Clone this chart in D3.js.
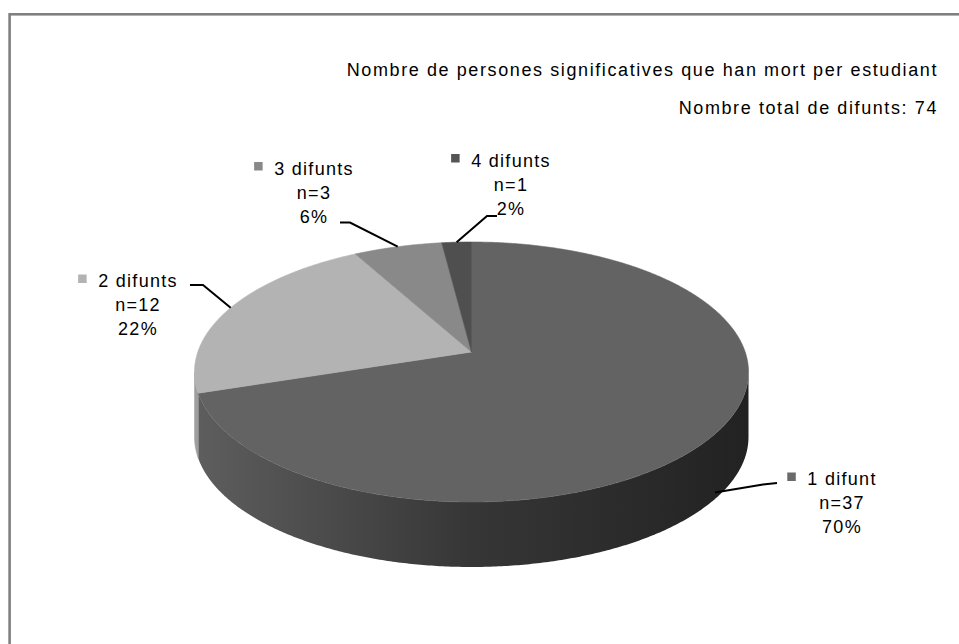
<!DOCTYPE html>
<html>
<head>
<meta charset="utf-8">
<script src="https://cdn.jsdelivr.net/npm/d3@7"></script>
<style>
  html, body { margin: 0; padding: 0; background: #fff; }
  svg { display: block; }
  text { font-family: "Liberation Sans", Arial, sans-serif; fill: #000; }
</style>
</head>
<body>
<svg id="chart" width="959" height="644"></svg>
<script>
// Data
const categories = ["1 difunt", "2 difunts", "3 difunts", "4 difunts"];
const counts = [37, 12, 3, 1];
const percents = [70, 22, 6, 2];
const titleLines = [
  "Nombre de persones significatives que han mort per estudiant",
  "Nombre total de difunts: 74"
];

// Styling
const topColors = ["#636363", "#b3b3b3", "#898989", "#4f4f4f"];
const markerColors = ["#6a6a6a", "#b3b3b3", "#898989", "#555555"];
const sideColors = [null, "#9e9e9e", "#7a7a7a", "#444444"];

// Label placement: block centre x, first baseline, leader elbow points
const labelLayout = [
  { cx: 842, y: 485, lead: [[777, 483], [763, 484.5]] },
  { cx: 138, y: 287, lead: [[190, 285], [203, 285]] },
  { cx: 314, y: 174.5, lead: [[340, 222.5], [350, 222.5]] },
  { cx: 511, y: 166.5, lead: [[497, 216], [487, 216]] }
];

const svg = d3.select("#chart");

// Chart frame (top and left edges visible in the viewport)
svg.append("rect")
  .attr("x", 9.6).attr("y", 14.3)
  .attr("width", 1000).attr("height", 700)
  .attr("fill", "none").attr("stroke", "#808080").attr("stroke-width", 2.6);

// Title lines, right aligned
svg.selectAll("text.title").data(titleLines).enter().append("text")
  .attr("class", "title")
  .attr("x", 938)
  .attr("y", (d, i) => 76 + i * 38)
  .attr("text-anchor", "end")
  .style("font-size", "18px")
  .style("letter-spacing", "1.6px")
  .text(d => d);

// 3D pie geometry: tilted disc with mild perspective
const cx = 471.5, cy = 372, rx = 277, ry = 130, depth = 65;
const k = 20 / 130; // perspective shift of the disc centre
const kk = Math.sqrt(1 - k * k);

function rim(theta) {
  const u = Math.sin(theta), v = -Math.cos(theta);
  const w = 1 - k * v;
  return [cx + rx * u * kk / w, cy + ry * (v - k) / w];
}
const apex = [cx, cy - ry * k];

const pie = d3.pie().sort(null).value(d => d)
  .startAngle(0).endAngle(2 * Math.PI);
const arcs = pie(percents);

const line = d3.line();
function arcPoints(a0, a1) {
  const n = Math.max(2, Math.ceil((a1 - a0) / (Math.PI / 360)));
  return d3.range(n + 1).map(i => rim(a0 + (a1 - a0) * i / n));
}

// Side walls (front half of the disc only)
const frontStart = Math.acos(-k), frontEnd = 2 * Math.PI - Math.acos(-k);

const defs = svg.append("defs");
const grad = defs.append("linearGradient")
  .attr("id", "sideGrad")
  .attr("gradientUnits", "userSpaceOnUse")
  .attr("x1", cx - rx).attr("x2", cx + rx).attr("y1", 0).attr("y2", 0);
grad.append("stop").attr("offset", "0%").attr("stop-color", "#5e5e5e");
grad.append("stop").attr("offset", "25%").attr("stop-color", "#4a4a4a");
grad.append("stop").attr("offset", "50%").attr("stop-color", "#363636");
grad.append("stop").attr("offset", "100%").attr("stop-color", "#222222");

const gSide = svg.append("g");
arcs.forEach((a, i) => {
  const s = Math.max(a.startAngle, frontStart);
  const e = Math.min(a.endAngle, frontEnd);
  if (e <= s) return;
  const topPts = arcPoints(s, e);
  const botPts = topPts.slice().reverse().map(p => [p[0], p[1] + depth]);
  gSide.append("path")
    .attr("d", line(topPts.concat(botPts)) + "Z")
    .attr("fill", i === 0 ? "url(#sideGrad)" : sideColors[i])
    .attr("stroke", i === 0 ? "none" : sideColors[i])
    .attr("stroke-width", 0.5);
});

// Top faces
const gTop = svg.append("g");
arcs.forEach((a, i) => {
  const pts = [apex].concat(arcPoints(a.startAngle, a.endAngle));
  gTop.append("path")
    .attr("d", line(pts) + "Z")
    .attr("fill", topColors[i])
    .attr("stroke", topColors[i])
    .attr("stroke-width", 0.6);
});

// Leader lines and labels
const gLab = svg.append("g");
arcs.forEach((a, i) => {
  const mid = (a.startAngle + a.endAngle) / 2;
  let anchor = rim(mid);
  const onFront = anchor[1] > cy;
  if (onFront) anchor = [anchor[0], anchor[1] + depth * 0.9];
  const L = labelLayout[i];
  gLab.append("path")
    .attr("d", line(L.lead.concat([anchor])))
    .attr("fill", "none")
    .attr("stroke", "#000")
    .attr("stroke-width", 2);

  const fs = 18, lh = 24.2;
  const t1 = gLab.append("text")
    .attr("x", L.cx).attr("y", L.y)
    .attr("text-anchor", "middle")
    .style("font-size", fs + "px")
    .style("letter-spacing", "1.3px")
    .text(categories[i]);
  const bb = t1.node().getBBox();
  gLab.append("rect")
    .attr("x", bb.x - 20).attr("y", L.y - 12.5)
    .attr("width", 8.5).attr("height", 8.5)
    .attr("fill", markerColors[i]);
  gLab.append("text")
    .attr("x", L.cx).attr("y", L.y + lh)
    .attr("text-anchor", "middle")
    .style("font-size", fs + "px")
    .style("letter-spacing", "1.3px")
    .text("n=" + counts[i]);
  gLab.append("text")
    .attr("x", L.cx).attr("y", L.y + 2 * lh)
    .attr("text-anchor", "middle")
    .style("font-size", fs + "px")
    .style("letter-spacing", "1.3px")
    .text(percents[i] + "%");
});
</script>
</body>
</html>
